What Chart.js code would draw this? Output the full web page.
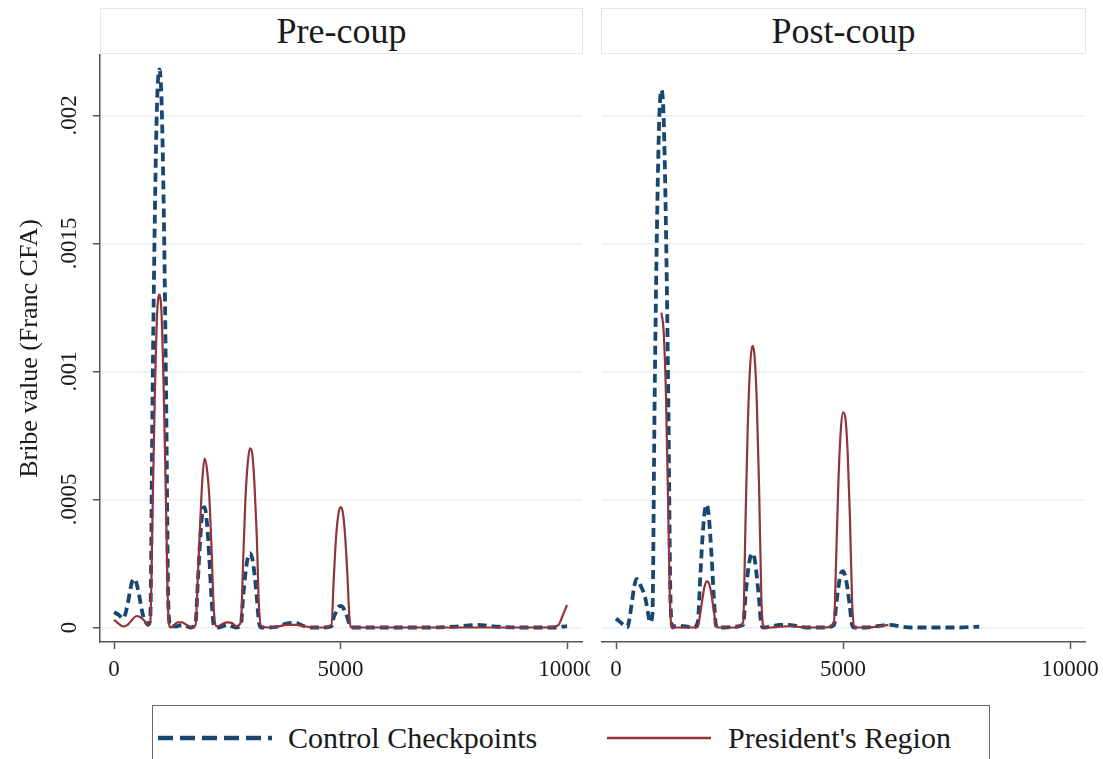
<!DOCTYPE html>
<html lang="en">
<head>
<meta charset="UTF-8">
<title>Bribe value density, pre and post coup</title>
<script src="https://cdn.jsdelivr.net/npm/chart.js"></script>
<style>
  body { margin: 0; width: 1103px; height: 759px; overflow: hidden; position: relative; background: #fff;
         font-family: "Liberation Serif", serif; color: #1a1a1a; }
  canvas { position: absolute; top: 0; }
  #pre { left: 0; }
  #post { left: 590px; background: #fff; }
  .head { position: absolute; top: 8px; height: 44px; border: 1px solid #e3e7ea; background: #fff;
          text-align: center; font-size: 36px; line-height: 44px; }
  #legend { position: absolute; left: 152px; top: 705px; width: 836px; height: 70px; border: 1.5px solid #666; }
  #legend svg, #legend span { position: absolute; }
  #legend span { top: 14px; font-size: 30px; line-height: 36px; white-space: nowrap; }
</style>
</head>
<body>
  <canvas id="pre" width="600" height="690"></canvas>
  <canvas id="post" width="513" height="690"></canvas>
  <div class="head" id="head0" style="left:100px; width:481px;"></div>
  <div class="head" id="head1" style="left:601px; width:483px;"></div>
  <div id="legend">
    <svg style="left:5px; top:27px;" width="114" height="10"><line x1="0" y1="5" x2="114" y2="5" stroke="#1a476f" stroke-width="4.5" stroke-dasharray="15 7"/></svg>
    <span id="lab0" style="left:135px;"></span>
    <svg style="left:454px; top:27px;" width="104" height="10"><line x1="0" y1="5" x2="104" y2="5" stroke="#90353b" stroke-width="2.5"/></svg>
    <span id="lab1" style="left:575px;"></span>
  </div>

<script>
  const panelTitles = ['Pre-coup', 'Post-coup'];
  const seriesNames = ['Control Checkpoints', "President's Region"];
  const yTitle = 'Bribe value (Franc CFA)';

  const xTicks = [0, 5000, 10000];
  const xTickLabels = ['0', '5000', '10000'];
  const yTicks = [0, 0.0005, 0.001, 0.0015, 0.002];
  const yTickLabels = ['0', '.0005', '.001', '.0015', '.002'];

  // pre-coup, both series share these x values
  const preX = [
    0, 100, 200, 300, 350, 400, 450, 500, 550, 600, 650, 700, 750,
    800, 850, 900, 950, 1000, 1050, 1100, 1150, 1200, 1250,
    1300, 1400, 1500, 1600, 1700,
    1800, 1850, 1900, 1950, 2000, 2050, 2100, 2150, 2200, 2250,
    2300, 2400, 2500, 2600, 2700,
    2800, 2850, 2900, 2950, 3000, 3050, 3100, 3150, 3200, 3250,
    3400, 3600, 3800, 4000, 4200, 4400, 4600,
    4800, 4850, 4900, 4950, 5000, 5050, 5100, 5150, 5200, 5250,
    5500, 6000, 6500, 7000, 7500, 8000, 8500, 9000, 9500,
    9800, 9900, 10000
  ];
  const preControl = [
    0.00006, 0.00005, 0.000035, 0.00009, 0.00014, 0.00018, 0.00019, 0.00017, 0.00013, 0.00008, 0.00004, 0.00002, 0.00001,
    0.00004, 0.0009, 0.0016, 0.00205, 0.00218, 0.00205, 0.0016, 0.0009, 0.00008, 0.000005,
    0.000005, 0.000005, 0.00001, 0.000005, 0,
    0.00002, 0.00018, 0.00034, 0.00045, 0.00047, 0.00041, 0.00028, 0.00012, 0.00001, 0,
    0, 0.000005, 0.00001, 0.000005, 0,
    0.00001, 0.00012, 0.00021, 0.00027, 0.00029, 0.00027, 0.00021, 0.00012, 0.00002, 0,
    0, 0.000003, 0.000015, 0.000018, 0.000005, 0, 0,
    0.000005, 0.00004, 0.00006, 0.00008, 0.000084, 0.00008, 0.00006, 0.00004, 0.00001, 0,
    0, 0, 0, 0, 0.000003, 0.00001, 0.000003, 0, 0,
    0, 0.000003, 0.000005
  ];
  const prePresident = [
    0.00003, 0.000015, 0.000004, 0.00001, 0.00002, 0.00003, 0.00004, 0.000045, 0.000043, 0.000038, 0.00003, 0.00002, 0.00001,
    0.00002, 0.00045, 0.0009, 0.00122, 0.0013, 0.00122, 0.0009, 0.00045, 0.00004, 0,
    0.000005, 0.00002, 0.00002, 0.00001, 0,
    0.00001, 0.0002, 0.0004, 0.00058, 0.00066, 0.00062, 0.00052, 0.00032, 0.00008, 0.000005,
    0.000005, 0.000015, 0.00002, 0.000018, 0.000005,
    0.00002, 0.00026, 0.0005, 0.00064, 0.0007, 0.00068, 0.00056, 0.00036, 0.00008, 0.000005,
    0, 0.000003, 0.00001, 0.00001, 0.000005, 0, 0,
    0.00001, 0.00019, 0.00035, 0.00044, 0.00047, 0.00045, 0.00036, 0.00021, 0.00003, 0,
    0, 0, 0, 0, 0, 0, 0, 0, 0,
    0.000008, 0.000045, 0.000088
  ];

  // post-coup
  const postControlX = [
    0, 100, 200, 250, 300, 350, 400, 450, 500, 550, 600, 650, 700, 750,
    800, 850, 900, 950, 1000, 1050, 1100, 1150, 1200, 1250,
    1300, 1500, 1700,
    1800, 1850, 1900, 1950, 2000, 2050, 2100, 2150, 2200, 2250,
    2400, 2600,
    2800, 2850, 2900, 2950, 3000, 3050, 3100, 3150, 3200, 3250,
    3400, 3600, 3800, 4000, 4200, 4400, 4600,
    4800, 4850, 4900, 4950, 5000, 5050, 5100, 5150, 5200, 5250,
    5500, 6000, 6500, 7000, 7500, 8000
  ];
  const postControl = [
    0.000035, 0.00002, 0.000005, 0.000002, 0.00004, 0.0001, 0.00016, 0.00019, 0.00018, 0.00016, 0.00014, 0.00011, 0.00006, 0.00002,
    0.00005, 0.0009, 0.00155, 0.00198, 0.0021, 0.00198, 0.00155, 0.0009, 0.0001, 0,
    0.000005, 0.000005, 0,
    0.00002, 0.00018, 0.00034, 0.00045, 0.00048, 0.00042, 0.00029, 0.00013, 0.00001, 0,
    0, 0.000003,
    0.00001, 0.00012, 0.00021, 0.00027, 0.00029, 0.00027, 0.0002, 0.00011, 0.00001, 0,
    0.000003, 0.00001, 0.00001, 0.000005, 0, 0, 0,
    0.00001, 0.00009, 0.00016, 0.00021, 0.00022, 0.0002, 0.00015, 0.00008, 0.00001, 0,
    0, 0.00001, 0, 0, 0, 0.000003
  ];
  const postPresidentX = [
    1000, 1050, 1100, 1150, 1200, 1250,
    1300, 1500, 1700,
    1800, 1850, 1900, 1950, 2000, 2050, 2100, 2150, 2200, 2250,
    2400, 2600,
    2800, 2850, 2900, 2950, 3000, 3050, 3100, 3150, 3200, 3250,
    3400, 3600, 3800, 4000, 4200, 4400, 4600,
    4800, 4850, 4900, 4950, 5000, 5050, 5100, 5150, 5200, 5250,
    5500, 5800, 6000
  ];
  const postPresident = [
    0.00123, 0.00115, 0.0009, 0.00045, 0.00004, 0,
    0, 0, 0,
    0.000003, 0.00005, 0.00011, 0.00016, 0.00018, 0.00017, 0.00013, 0.00007, 0.00001, 0,
    0, 0,
    0.00002, 0.0004, 0.00078, 0.00101, 0.0011, 0.00106, 0.00088, 0.00055, 0.00012, 0,
    0, 0.000003, 0.000005, 0.000003, 0, 0, 0,
    0.00002, 0.00028, 0.00058, 0.00077, 0.00084, 0.00082, 0.00069, 0.00044, 0.0001, 0,
    0, 0.000005, 0.00001
  ];

  const BLUE = '#1a476f';
  const RED = '#90353b';
  const GRID = '#e6eff1';
  const AXIS = '#555';
  const FONT = 'Liberation Serif';

  Chart.defaults.font.family = FONT;
  Chart.defaults.color = '#1a1a1a';

  function pts(xs, ys) {
    return xs.map((x, i) => ({ x: x, y: ys[i] }));
  }

  function makeChart(id, control, president, first) {
    return new Chart(document.getElementById(id), {
      type: 'line',
      data: {
        datasets: [
          { label: seriesNames[0], data: control, borderColor: BLUE, borderWidth: 3.8, borderDash: [9, 5],
            pointRadius: 0, cubicInterpolationMode: 'monotone', fill: false, order: 1 },
          { label: seriesNames[1], data: president, borderColor: RED, borderWidth: 2.2,
            pointRadius: 0, cubicInterpolationMode: 'monotone', fill: false, order: 0 }
        ]
      },
      options: {
        responsive: false,
        animation: false,
        layout: { padding: { left: 0, top: 55, right: 18, bottom: 0 } },
        plugins: { legend: { display: false }, tooltip: { enabled: false } },
        scales: {
          x: {
            type: 'linear', min: -310, max: 10330,
            afterBuildTicks: s => { s.ticks = xTicks.map(v => ({ value: v })); },
            afterFit: s => { s.height = 48; s.paddingLeft = 0; s.paddingRight = 0; },
            ticks: { callback: v => xTickLabels[xTicks.indexOf(v)], font: { size: 23 }, padding: 7, maxRotation: 0 },
            grid: { drawOnChartArea: false, drawTicks: true, tickLength: 7, tickColor: AXIS, tickWidth: 1.5 },
            border: { display: true, color: AXIS, width: 1.5 }
          },
          y: {
            type: 'linear', min: -0.0000566, max: 0.002236,
            afterBuildTicks: s => { s.ticks = yTicks.map(v => ({ value: v })); },
            afterFit: s => { s.width = first ? 100 : 12; s.paddingTop = 0; s.paddingBottom = 0; },
            ticks: { display: first, callback: v => yTickLabels[yTicks.indexOf(v)], font: { size: 23 },
                     minRotation: 90, maxRotation: 90, crossAlign: 'center', padding: -3 },
            grid: { color: GRID, lineWidth: 1.5, drawTicks: first, tickLength: 7, tickColor: AXIS, tickWidth: 1.5 },
            border: { display: first, color: AXIS, width: 1.5 },
            title: { display: first, text: yTitle, font: { size: 26 }, padding: { top: 15, bottom: 0 } }
          }
        }
      }
    });
  }

  makeChart('pre', pts(preX, preControl), pts(preX, prePresident), true);
  makeChart('post', pts(postControlX, postControl), pts(postPresidentX, postPresident), false);

  document.getElementById('head0').textContent = panelTitles[0];
  document.getElementById('head1').textContent = panelTitles[1];
  document.getElementById('lab0').textContent = seriesNames[0];
  document.getElementById('lab1').textContent = seriesNames[1];
</script>
</body>
</html>
